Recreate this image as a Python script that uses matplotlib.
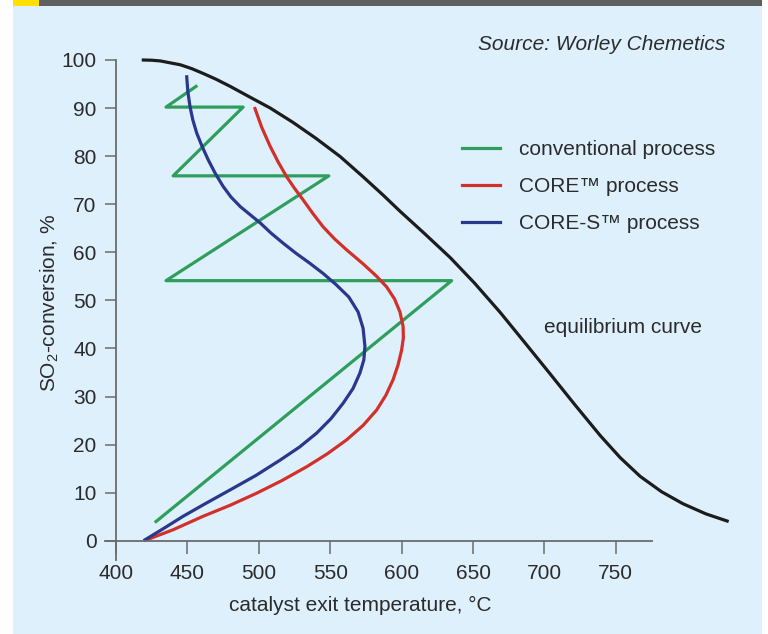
import matplotlib
matplotlib.use('Agg')
import matplotlib.pyplot as plt
from matplotlib.patches import Rectangle

plt.rcParams['font.family'] = ['Liberation Sans', 'DejaVu Sans']
plt.rcParams['mathtext.default'] = 'regular'

# equilibrium curve (temperature, conversion)
eq_t = [418, 425, 431, 438, 445, 453, 461, 470, 480, 493, 508, 524, 540, 557, 573, 587,
        599, 616, 634, 651, 669, 686, 704, 721, 739, 753, 767, 782, 797, 813, 829]
eq_x = [100, 99.95, 99.8, 99.4, 99.0, 98.2, 97.2, 96.0, 94.5, 92.4, 90.0, 87.0, 83.7, 79.9,
        75.7, 71.9, 68.5, 63.9, 58.9, 53.6, 47.5, 41.3, 34.7, 28.4, 21.9, 17.3, 13.4, 10.2,
        7.7, 5.6, 4.0]

# conventional process: adiabatic beds with interpass cooling
conv_t = [428, 635, 435, 549, 440, 489, 435, 456]
conv_x = [4.0, 54.1, 54.1, 75.9, 75.9, 90.2, 90.2, 94.5]

# CORE process
core_t = [421.5, 440, 461, 480, 498.5, 516, 533.5, 548, 561.5, 573, 582.5, 589, 594, 597.5,
          600, 601.2, 601, 598.8, 595, 589.5, 582.5, 573, 561.5, 553, 545, 538, 531, 525,
          519.5, 513.5, 508, 502, 497.3]
core_x = [0.2, 2.3, 5.1, 7.4, 9.9, 12.5, 15.4, 18.1, 21.0, 24.0, 27.2, 30.3, 33.5, 36.6,
          39.7, 42.2, 44.6, 47.6, 50.3, 52.8, 55.0, 57.6, 60.5, 62.8, 65.3, 68.0, 70.9, 73.3,
          75.7, 78.8, 82.0, 86.0, 89.9]

# CORE-S process
cores_t = [420.3, 433, 447, 463, 480, 498, 515, 528.5, 540.5, 550.5, 559, 566, 570.8, 573.5,
           574.3, 573, 569.5, 563, 554, 545, 535.8, 526, 517, 508.5, 501, 494, 487,
           480.5, 475, 469.5, 464.6, 460.3, 456.5, 453.8, 451.8, 450.3, 449.5]
cores_x = [0.2, 2.5, 5.1, 7.8, 10.6, 13.6, 16.8, 19.5, 22.4, 25.4, 28.6, 31.7, 34.9, 37.6,
           40.4, 44.2, 47.6, 50.7, 53.3, 55.6, 57.7, 59.8, 61.9, 64.0, 66.1, 67.8, 69.5,
           71.5, 73.7, 76.4, 79.2, 82.0, 84.8, 87.5, 90.3, 93.4, 96.5]

xticks = [400, 450, 500, 550, 600, 650, 700, 750]
yticks = [0, 10, 20, 30, 40, 50, 60, 70, 80, 90, 100]

txt = '#2b2b2b'
axis_col = '#6b6b6b'
fs = 15

fig = plt.figure(figsize=(7.68, 6.34), dpi=100, facecolor='white')

# panel background and header strip
fig.patches.append(Rectangle((13 / 768, 0), 749 / 768, 1, transform=fig.transFigure,
                             facecolor='#dff0fd', edgecolor='none', zorder=-3))
fig.patches.append(Rectangle((13 / 768, 1 - 6 / 634), 749 / 768, 6 / 634, transform=fig.transFigure,
                             facecolor='#5f5f5f', edgecolor='none', zorder=-2))
fig.patches.append(Rectangle((13 / 768, 1 - 6 / 634), 26 / 768, 6 / 634, transform=fig.transFigure,
                             facecolor='#ffe000', edgecolor='none', zorder=-1))

ax = fig.add_axes([0.1362, 0.1167, 0.7122, 0.7887])
ax.set_zorder(5)
ax.set_facecolor('none')

lw = 2.3
ax.plot(eq_t, eq_x, color='#1c1c1c', lw=lw, clip_on=False, solid_capstyle='butt')
ax.plot(conv_t, conv_x, color='#2e9e5c', lw=lw, clip_on=False, label='conventional process')
ax.plot(core_t, core_x, color='#d2312b', lw=lw, clip_on=False, label='CORE\u2122 process')
ax.plot(cores_t, cores_x, color='#29388c', lw=lw, clip_on=False, label='CORE-S\u2122 process')

ax.set_xlim(392, 775)
ax.set_ylim(-4, 100)
ax.spines['left'].set_position(('data', 400))
ax.spines['bottom'].set_position(('data', 0))
for s in ['top', 'right']:
    ax.spines[s].set_visible(False)
for s in ['left', 'bottom']:
    ax.spines[s].set_color(axis_col)
    ax.spines[s].set_linewidth(1.3)

ax.set_xticks(xticks)
ax.set_yticks(yticks)
ax.tick_params(axis='both', direction='out', color=axis_col, width=1.1,
               labelsize=fs, labelcolor=txt)
ax.tick_params(axis='x', length=9, pad=8)
ax.tick_params(axis='y', length=8, pad=6)

ax.set_xlabel('catalyst exit temperature, \u00b0C', fontsize=fs, color=txt)
ax.xaxis.set_label_coords(0.467, -0.09)
ax.xaxis.label.set_va('center')
ax.set_ylabel('SO$_2$-conversion, %', fontsize=fs, color=txt)
ax.yaxis.set_label_coords(-0.1, 0.514)
ax.yaxis.label.set_va('center')

ax.text(699.6, 44.3, 'equilibrium curve', fontsize=fs, color=txt, va='center', ha='left')
fig.text(725 / 768, 1 - 45 / 634, 'Source: Worley Chemetics', fontsize=fs, color=txt,
         style='italic', ha='right', va='center')

ax.legend(loc='upper left', bbox_to_anchor=(0.653, 0.840), frameon=False, fontsize=fs,
          borderpad=0, borderaxespad=0, handlelength=1.85, handletextpad=0.9,
          labelspacing=0.86, labelcolor=txt)

fig.savefig('out.png', dpi=100, facecolor=fig.get_facecolor())
